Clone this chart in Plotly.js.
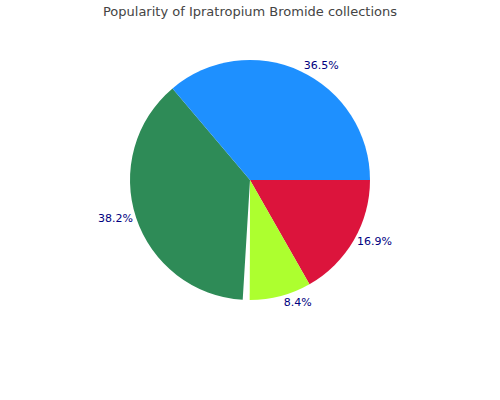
<!DOCTYPE html>
<html><head><meta charset="utf-8">
<script src="https://cdn.plot.ly/plotly-3.0.1.min.js"></script>
<style>html,body{margin:0;padding:0;background:#fff}</style>
</head><body>
<div id="chart" style="width:500px;height:400px"></div>
<script>
// Slices clockwise from 3 o'clock; the small unlabeled gap between the
// yellow-green and green slices is visible in the reference.
const labels = ["Red", "Yellow-green", "gap", "Green", "Blue"];
const values = [16.9, 8.4, 0.9, 38.2, 36.5];
const percentLabels = ["16.9%", "8.4%", "", "38.2%", "36.5%"];
const colors = ["#DC143C", "#ADFF2F", "#FFFFFF", "#2E8B57", "#1E90FF"];

Plotly.newPlot("chart", [{
  type: "pie",
  labels: labels,
  values: values,
  text: percentLabels,
  sort: false,
  direction: "clockwise",
  rotation: 90,
  marker: {colors: colors, line: {width: 0}},
  textinfo: "text",
  textposition: "outside",
  outsidetextfont: {family: "DejaVu Sans", size: 11, color: "#000080"},
  hoverinfo: "none"
}], {
  width: 500, height: 400,
  showlegend: false,
  margin: {l: 0, r: 0, t: 60, b: 100},
  paper_bgcolor: "#fff",
  title: {text: "Popularity of Ipratropium Bromide collections", x: 0.5, y: 0.972, yanchor: "middle",
          font: {family: "DejaVu Sans", size: 13, color: "#444"}}
}, {displayModeBar: false, staticPlot: true});
</script>
</body></html>
